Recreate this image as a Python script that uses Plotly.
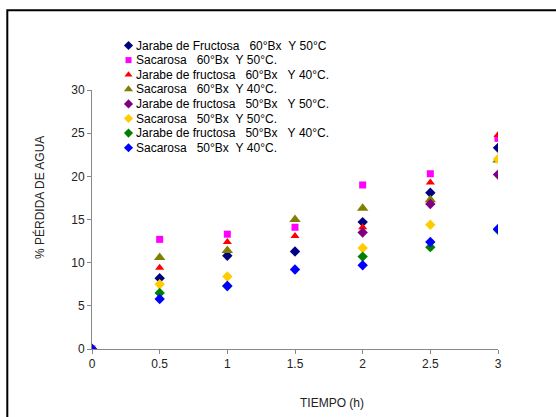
import plotly.graph_objects as go

tiempo = [0, 0.5, 1, 1.5, 2, 2.5, 3]

series_names = [
    "Jarabe de Fructosa   60°Bx  Y 50°C",
    "Sacarosa   60°Bx  Y 50°C.",
    "Jarabe de fructosa   60°Bx   Y 40°C.",
    "Sacarosa   60°Bx  Y 40°C.",
    "Jarabe de fructosa   50°Bx   Y 50°C.",
    "Sacarosa   50°Bx  Y 50°C.",
    "Jarabe de fructosa   50°Bx   Y 40°C.",
    "Sacarosa   50°Bx  Y 40°C.",
]

jf_60_50 = [0, 8.2, 10.8, 11.3, 14.7, 18.1, 23.3]
sac_60_50 = [0, 12.7, 13.3, 14.1, 19.0, 20.3, 24.4]
jf_60_40 = [0, 9.4, 12.4, 13.1, 14.1, 19.3, 24.8]
sac_60_40 = [0, 10.6, 11.4, 15.0, 16.3, 17.3, 21.9]
jf_50_50 = [0, None, None, None, 13.5, 16.8, 20.2]
sac_50_50 = [0, 7.5, 8.4, None, 11.7, 14.4, 22.0]
jf_50_40 = [0, 6.5, 7.3, None, 10.7, 11.8, 13.8]
sac_50_40 = [0, 5.8, 7.3, 9.2, 9.7, 12.4, 13.9]

all_values = [jf_60_50, sac_60_50, jf_60_40, sac_60_40, jf_50_50, sac_50_50, jf_50_40, sac_50_40]
colors = ["#000080", "#FF00FF", "#FF0000", "#808000", "#800080", "#FFCC00", "#008000", "#0000FF"]
symbols = ["diamond", "square", "triangle-up", "triangle-up", "diamond", "diamond", "diamond", "diamond"]
sizes = [8, 7, 8, 10, 8, 8, 8, 8]
legend_sizes = [7, 6, 7, 8, 7, 7, 7, 7]

W, H = 556, 417
FONT = "Liberation Sans, Arial, sans-serif"

fig = go.Figure()
for name, vals, c, s, sz in zip(series_names, all_values, colors, symbols, sizes):
    fig.add_trace(go.Scatter(
        x=tiempo, y=vals, mode="markers", name=name, showlegend=False,
        marker=dict(color=c, symbol=s, size=sz, line=dict(width=0)),
        xaxis="x", yaxis="y",
    ))

# Hand-built legend (compact Excel-style spacing) on an overlay axis in pixel units
leg_x0, leg_y0, leg_step = 128.5, 45.5, 14.6
for i, (name, c, s, sz) in enumerate(zip(series_names, colors, symbols, legend_sizes)):
    fig.add_trace(go.Scatter(
        x=[leg_x0], y=[leg_y0 + i * leg_step], mode="markers", showlegend=False,
        hoverinfo="skip",
        marker=dict(color=c, symbol=s, size=sz, line=dict(width=0)),
        xaxis="x2", yaxis="y2",
    ))
    fig.add_annotation(
        text=name.replace(" ", "\u00a0"), xref="x2", yref="y2",
        x=leg_x0 + 5.5, y=leg_y0 + i * leg_step, xanchor="left", yanchor="middle",
        showarrow=False, font=dict(family=FONT, size=12, color="#000"),
    )

axis_font = dict(family=FONT, size=12, color="#222")

fig.update_layout(
    width=W, height=H,
    margin=dict(l=0, r=0, t=0, b=0, autoexpand=False),
    paper_bgcolor="white", plot_bgcolor="rgba(0,0,0,0)",
    font=axis_font,
    showlegend=False,
    xaxis=dict(
        domain=[92 / W, 498 / W], anchor="y",
        range=[0, 3], tickvals=[0, 0.5, 1, 1.5, 2, 2.5, 3],
        ticktext=["0", "0.5", "1", "1.5", "2", "2.5", "3"],
        showline=True, linecolor="#888", linewidth=1,
        ticks="outside", ticklen=4, tickcolor="#888",
        showgrid=False, zeroline=False, tickfont=axis_font,
    ),
    yaxis=dict(
        domain=[(H - 349) / H, (H - 90) / H], anchor="x",
        range=[0, 30], tickvals=[0, 5, 10, 15, 20, 25, 30],
        showline=True, linecolor="#888", linewidth=1,
        ticks="outside", ticklen=4, tickcolor="#888",
        showgrid=False, zeroline=False, tickfont=axis_font,
    ),
    xaxis2=dict(domain=[0, 1], range=[0, W], visible=False, anchor="y2", fixedrange=True),
    yaxis2=dict(domain=[0, 1], range=[H, 0], visible=False, anchor="x2", fixedrange=True),
    shapes=[
        dict(type="rect", xref="paper", yref="paper",
             x0=7.3 / W, x1=1.05, y0=-0.05, y1=1 - 10.3 / H,
             line=dict(color="black", width=2), fillcolor="rgba(0,0,0,0)", layer="below"),
    ],
)

fig.add_annotation(text="TIEMPO (h)", xref="paper", yref="paper", x=332 / W, y=1 - 403 / H,
                   showarrow=False, xanchor="center", yanchor="middle",
                   font=dict(family=FONT, size=12, color="#222"))
fig.add_annotation(text="% PÉRDIDA DE AGUA", xref="paper", yref="paper", x=40 / W, y=1 - 198 / H,
                   showarrow=False, textangle=-90, xanchor="center", yanchor="middle",
                   font=dict(family=FONT, size=12, color="#222"))

fig.write_html(
    "out.html",
    config={"displayModeBar": False},
    post_script="document.body.style.margin='0';document.body.style.overflow='hidden';",
)
